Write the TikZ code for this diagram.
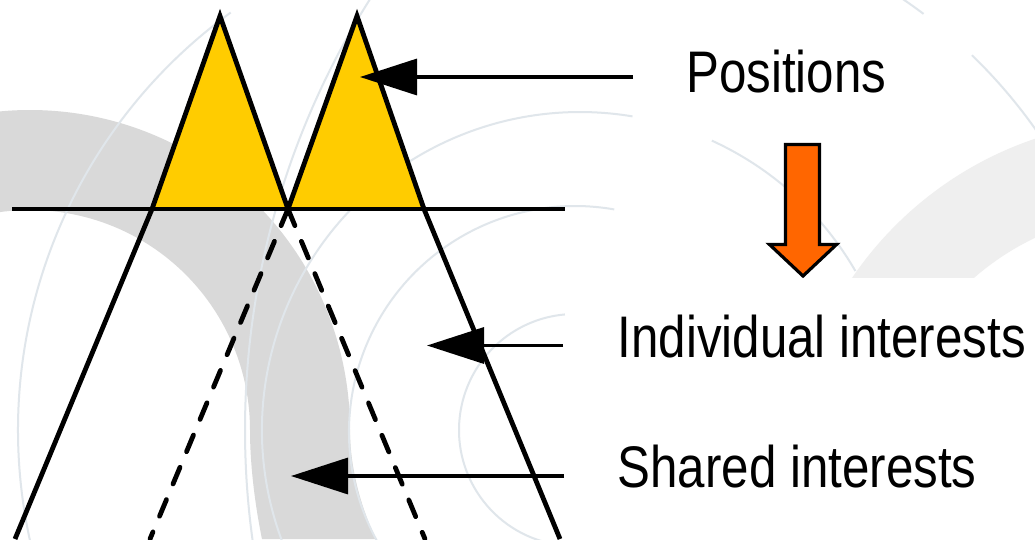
\documentclass[tikz,border=0pt]{standalone}
\usepackage{fontspec}
\newfontfamily\labfont[FakeStretch=0.84]{Liberation Sans}
\usetikzlibrary{arrows.meta}
\definecolor{triyellow}{HTML}{FFCC00}
\definecolor{blockorange}{HTML}{FF6600}
\definecolor{bandgray}{HTML}{D9D9D9}
\definecolor{ringgray}{HTML}{EFEFEF}
\definecolor{arcgray}{HTML}{E0E6EB}
\newcommand\bgarc[4]{\draw[thinarc] (#1) ++(#3:#2) arc[start angle=#3,end angle=#4,radius=#2];}
\begin{document}
\begin{tikzpicture}[x=1pt,y=-1pt,
  thinarc/.style={draw=arcgray,line width=2pt},
  legline/.style={line width=4.8pt},
  dashleg/.style={line width=4.8pt,dash pattern=on 18pt off 17pt,line cap=round},
  ptrarrow/.style={line width=3.4pt,-{Triangle[length=57pt,width=36pt]}},
  labeltext/.style={font={\labfont\fontsize{58.66}{70}\selectfont},inner sep=0pt,anchor=base west}]
\useasboundingbox (0,0) rectangle (1035,539);
\clip (0,0) rectangle (1035,539);
\fill[white] (0,0) rectangle (1035,539);

% background swoosh (left)
\fill[bandgray] (-3.45,111.75) arc[start angle=264,end angle=360,radius=320]
  .. controls (350,470) and (362,510) .. (376,539) -- (262,539)
  .. controls (255,505) and (250,465) .. (250,430)
  arc[start angle=0,end angle=-98,radius=220] -- cycle;
% background ring (right)
\begin{scope}
  \clip (0,0) rectangle (1035,277);
  \fill[ringgray,even odd rule] (1150,480) circle[radius=360] (1150,480) circle[radius=268];
\end{scope}
% faint background arcs
\bgarc{534,430}{516}{234}{167}
\bgarc{1050,430}{805}{213}{172}
\bgarc{580,430}{318}{158}{279.5}
\bgarc{580,430}{318}{294.5}{330}
\bgarc{575,432}{226}{151}{280}
\bgarc{575,430}{116}{100}{265}
\bgarc{610,430}{521}{300}{307}
\bgarc{610,430}{521}{314}{326}

% triangles
\coordinate (la) at (220,16);
\coordinate (ra) at (357,16);
\coordinate (lb) at (152,209);
\coordinate (cx) at (288,209);
\coordinate (rb) at (424,209);
\coordinate (lbot) at (15,539);
\coordinate (rbot) at (560,539);
\coordinate (ldbot) at (150,539);
\coordinate (rdbot) at (425,539);
\coordinate (hl) at (12,209);
\coordinate (hr) at (565,209);
\fill[triyellow] (la) -- (lb) -- (cx) -- cycle;
\fill[triyellow] (ra) -- (cx) -- (rb) -- cycle;
\draw[legline,line join=miter] (lb) -- (la) -- (cx);
\draw[legline,line join=miter] (cx) -- (ra) -- (rb);
\draw[legline] (lb) -- (lbot);
\draw[legline] (rb) -- (rbot);
\draw[dashleg] (cx) -- (ldbot);
\draw[dashleg] (cx) -- (rdbot);
\draw[line width=4pt] (hl) -- (hr);

% pointer arrows
\coordinate (p1s) at (633,77);
\coordinate (p1t) at (360,77);
\coordinate (p2s) at (563,345.5);
\coordinate (p2t) at (427,345.5);
\coordinate (p3s) at (564,476);
\coordinate (p3t) at (291,476);
\draw[ptrarrow] (p1s) -- (p1t);
\draw[ptrarrow] (p2s) -- (p2t);
\draw[ptrarrow] (p3s) -- (p3t);

% orange block arrow
\filldraw[fill=blockorange,draw=black,line width=3.2pt,line join=miter]
  (785.5,144.5) -- (819.5,144.5) -- (819.5,244.5) -- (836.5,244.5)
  -- (803,276) -- (769.5,244.5) -- (785.5,244.5) -- cycle;

% labels
\node[labeltext] (pos) at (686,92) {Positions};
\node[labeltext] (indiv) at (617.5,357) {Individual interests};
\node[labeltext] (shared) at (617.5,487) {Shared interests};
\end{tikzpicture}
\end{document}
